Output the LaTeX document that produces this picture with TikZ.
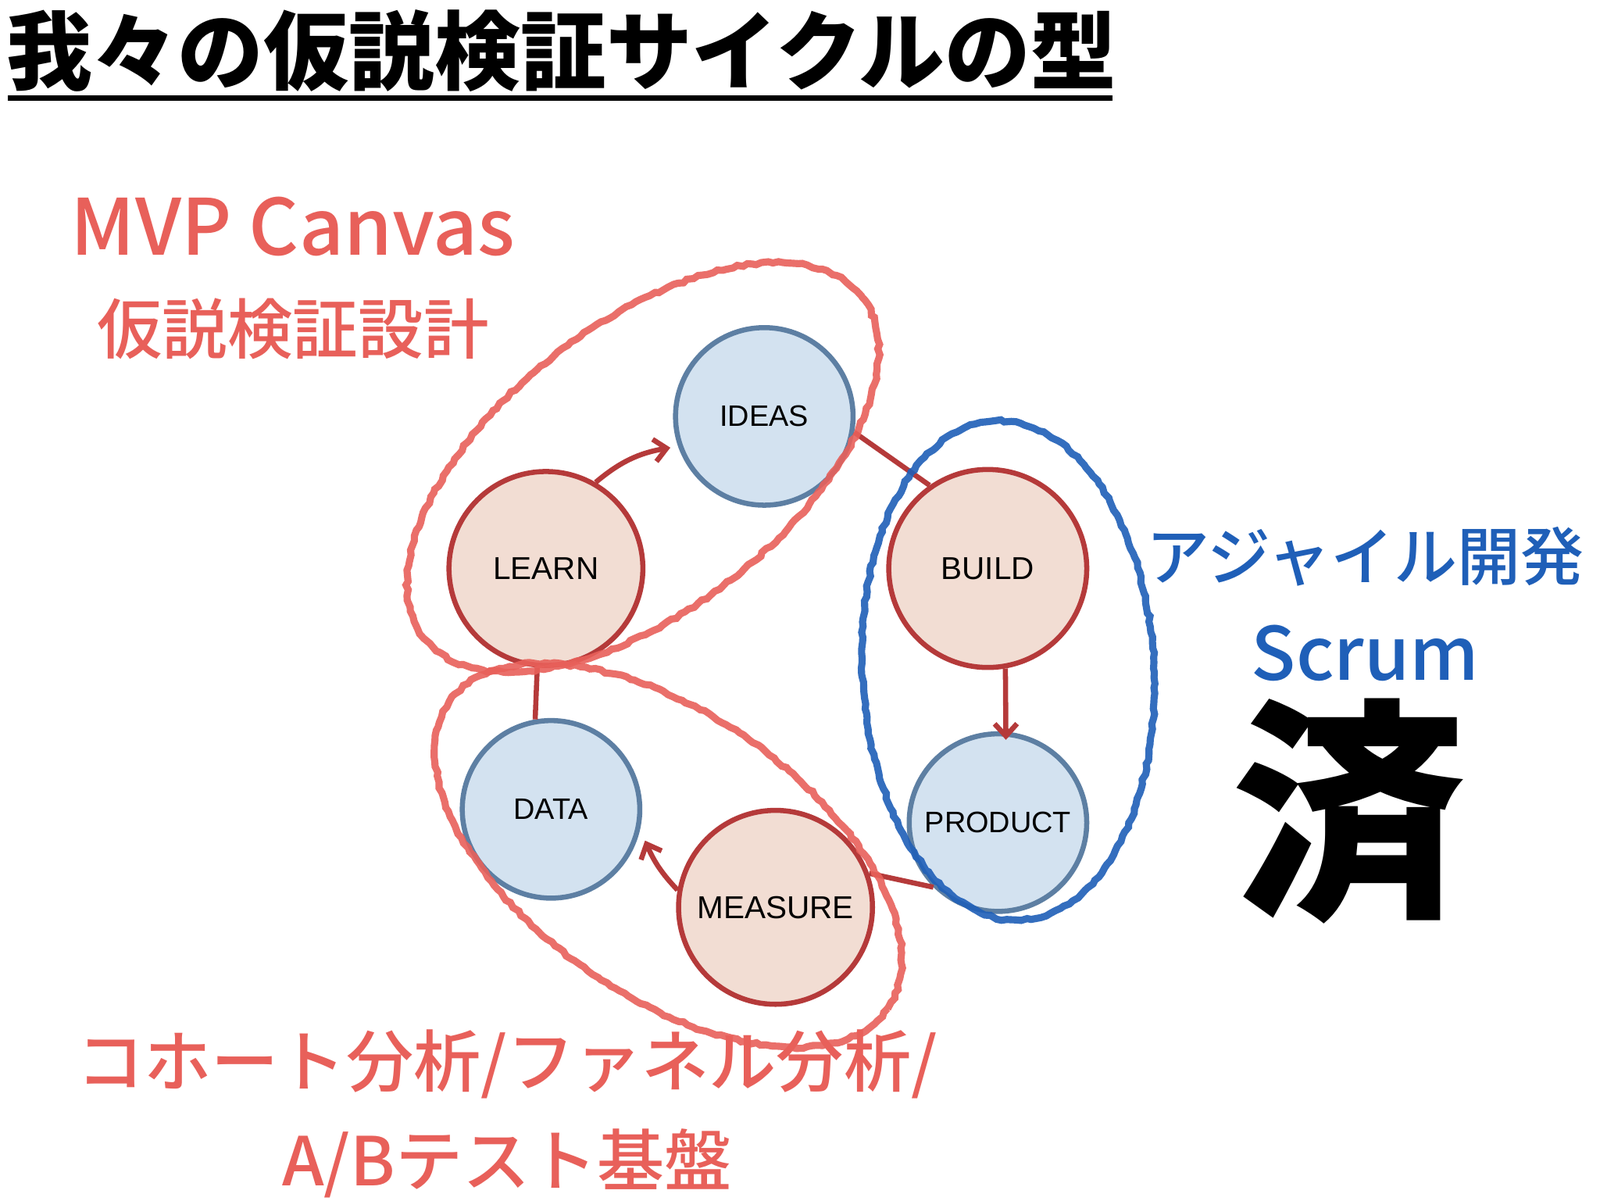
\documentclass[tikz,border=0pt]{standalone}
\usepackage{fontspec}
\setmainfont{Liberation Sans}
\newfontfamily\jp{Noto Sans CJK JP Medium}
\newfontfamily\jpt{Noto Sans CJK JP}
\newfontfamily\jpb{Noto Sans CJK JP Black}
\usetikzlibrary{arrows.meta,decorations.pathmorphing}
\definecolor{rtxt}{HTML}{E8605A}
\definecolor{btxt}{HTML}{1F5FB8}
\definecolor{pinkf}{HTML}{F2DDD3}
\definecolor{bluef}{HTML}{D3E2F0}
\definecolor{redb}{HTML}{B53A3A}
\definecolor{blueb}{HTML}{5D7FA3}
\tikzset{
 pc/.style={circle,draw=redb,fill=pinkf,line width=5pt,font=\fontsize{31}{32}\selectfont},
 bc/.style={circle,draw=blueb,fill=bluef,line width=5pt,font=\fontsize{29}{30}\selectfont},
 link/.style={draw=redb,line width=5pt},
 arr/.style={link,-{Straight Barb[length=12pt,width=22pt]}},
 rough/.style={line width=7pt,decorate,decoration={random steps,segment length=5pt,amplitude=1.2pt},opacity=0.9}
}
\begin{document}
\begin{tikzpicture}[x=1pt,y=-1pt]
\useasboundingbox (0,0) rectangle (1568,1176);
\fill[white] (0,0) rectangle (1568,1176);
\node[anchor=west,inner sep=0,font=\jpt\bfseries\fontsize{84}{88}\selectfont] (title) at (6,50) {我々の仮説検証サイクルの型};
\draw[line width=5pt] (8,96) -- (1090,96);
\node[pc,minimum size=190pt] (learn) at (535,557) {LEARN};
\node[bc,minimum size=174pt] (ideas) at (749,408) {IDEAS};
\node[pc,minimum size=194pt] (build) at (968,557) {BUILD};
\node[bc,minimum size=174pt] (product) at (978,806) {PRODUCT};
\node[bc,minimum size=174pt] (data) at (540,793) {DATA};
\node[pc,minimum size=190pt] (measure) at (760,889) {MEASURE};
\draw[arr] (learn.60) to[bend left=15] ([xshift=-8pt]ideas.200);
\draw[link] (ideas.-10) -- (build.125);
\draw[arr] (build.-80) -- ([yshift=-8pt]product.85);
\draw[link] (product.225) -- (measure.20);
\draw[arr] (measure.170) to[bend left=10] ([xshift=8pt]data.-20);
\draw[link] (data.100) -- (learn.-95);
\draw[rough,draw=rtxt] (630,458) ellipse[x radius=272,y radius=140,rotate=38];
\draw[rough,draw=rtxt] (655,838) ellipse[x radius=262,y radius=138,rotate=-35];
\draw[rough,draw=btxt] (988,657) ellipse[x radius=143,y radius=245,rotate=3];
\node[text=rtxt,font=\jp\fontsize{76}{78}\selectfont] (mvp) at (287,222) {MVP Canvas};
\node[text=rtxt,font=\jp\fontsize{64}{66}\selectfont] (kasetsu) at (287,322) {仮説検証設計};
\node[text=btxt,font=\jp\fontsize{62}{64}\selectfont] (agile) at (1338,545) {アジャイル開発};
\node[text=btxt,font=\jp\fontsize{72}{74}\selectfont] (scrum) at (1338,640) {Scrum};
\node[font=\jpb\fontsize{230}{230}\selectfont] (sumi) at (1322,795) {済};
\node[text=rtxt,font=\jp\fontsize{66}{68}\selectfont] (cohort) at (497,1043) {コホート分析/ファネル分析/};
\node[text=rtxt,font=\jp\fontsize{66}{68}\selectfont] (ab) at (497,1140) {A/Bテスト基盤};
\end{tikzpicture}
\end{document}
